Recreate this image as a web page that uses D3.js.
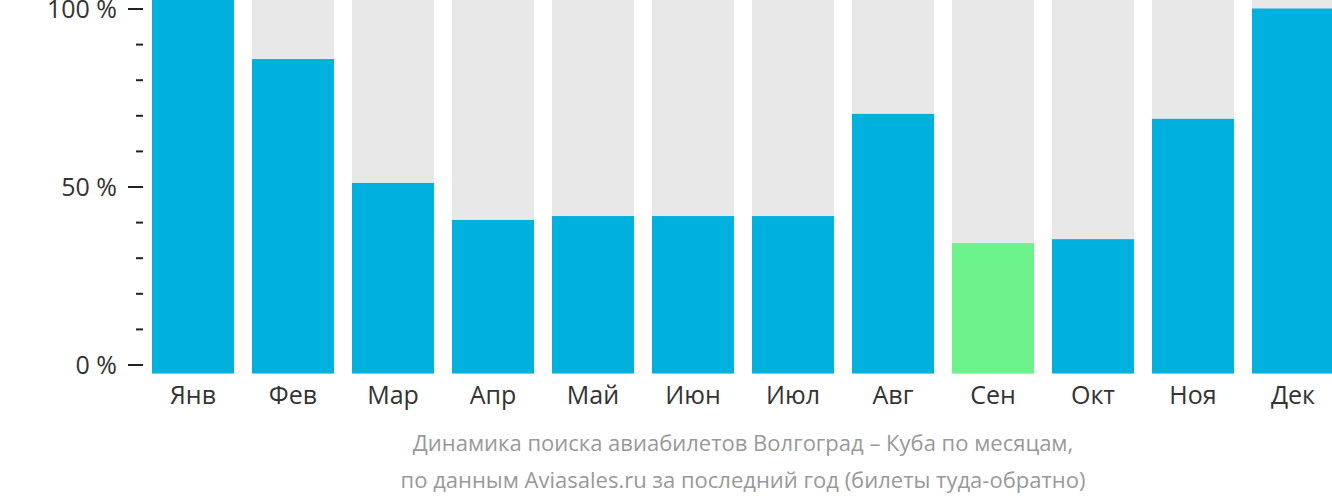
<!DOCTYPE html>
<html>
<head>
<meta charset="utf-8">
<script src="https://cdn.jsdelivr.net/npm/d3@7/dist/d3.min.js"></script>
<style>
  html, body { margin: 0; padding: 0; background: #fff; }
  svg text { font-family: 'Open Sans', 'Noto Sans', sans-serif; }
</style>
</head>
<body>
<svg id="chart" width="1332" height="502"></svg>
<script>
// months and search share (% of the busiest month)
const months = ['Янв', 'Фев', 'Мар', 'Апр', 'Май', 'Июн', 'Июл', 'Авг', 'Сен', 'Окт', 'Ноя', 'Дек'];
const values = [104, 85.8, 51, 40.6, 41.7, 41.7, 41.7, 70.4, 34.1, 35.2, 69, 100];
const cheapest = ['Сен'];
const yTicks = [0, 50, 100];
const subtitle = [
  'Динамика поиска авиабилетов Волгоград – Куба по месяцам,',
  'по данным Aviasales.ru за последний год (билеты туда-обратно)'
];

const chart = {
  left: 152,
  right: 1334,
  zeroY: 364.5,
  topY: 8.5,
  barBottom: 373.5,
  blue: '#00b1dd',
  green: '#6cf28a',
  grey: '#e8e8e8',
  font: "'Open Sans', 'Noto Sans', sans-serif"
};

const svg = d3.select('#chart');

const x = d3.scaleBand()
  .domain(months)
  .range([chart.left, chart.right])
  .paddingInner(0.18)
  .paddingOuter(0);

const y = d3.scaleLinear()
  .domain([0, 100])
  .range([chart.zeroY, chart.topY]);

// background columns
svg.append('g').selectAll('rect')
  .data(months)
  .enter().append('rect')
  .attr('x', d => x(d))
  .attr('y', 0)
  .attr('width', x.bandwidth())
  .attr('height', chart.barBottom)
  .attr('fill', chart.grey);

// value bars
svg.append('g').selectAll('rect')
  .data(months.map((m, i) => ({ m: m, v: values[i] })))
  .enter().append('rect')
  .attr('x', d => x(d.m))
  .attr('y', d => Math.max(0, y(d.v)))
  .attr('width', x.bandwidth())
  .attr('height', d => chart.barBottom - Math.max(0, y(d.v)))
  .attr('fill', d => cheapest.includes(d.m) ? chart.green : chart.blue);

// y axis: major ticks with labels, minor ticks every 10 %
const yAxis = d3.axisLeft(y)
  .tickValues(yTicks)
  .tickSize(15)
  .tickPadding(11)
  .tickFormat(d => d + ' %');

const gy = svg.append('g')
  .attr('transform', 'translate(143,0)')
  .call(yAxis)
  .attr('font-family', chart.font);
gy.select('.domain').remove();
gy.selectAll('line').attr('stroke', '#222').attr('stroke-width', 2);
gy.selectAll('text')
  .attr('fill', '#333')
  .style('font-family', chart.font)
  .style('font-size', '25px')
  .attr('dy', '0.34em');

const gMinor = svg.append('g')
  .attr('transform', 'translate(143,0)')
  .call(d3.axisLeft(y).tickValues(d3.range(10, 100, 10).filter(t => t !== 50)).tickSize(7).tickFormat(''));
gMinor.select('.domain').remove();
gMinor.selectAll('line').attr('stroke', '#222').attr('stroke-width', 2);

// x axis labels
const gx = svg.append('g')
  .attr('transform', 'translate(0,' + chart.barBottom + ')')
  .call(d3.axisBottom(x).tickSize(0).tickPadding(13))
  .attr('font-family', chart.font);
gx.select('.domain').remove();
gx.selectAll('text')
  .attr('fill', '#333')
  .style('font-family', chart.font)
  .style('font-size', '25px')
  .attr('dy', '0.71em');

// caption
svg.append('g').selectAll('text')
  .data(subtitle)
  .enter().append('text')
  .attr('x', (chart.left + chart.right) / 2)
  .attr('y', (d, i) => 451 + i * 37)
  .attr('text-anchor', 'middle')
  .attr('fill', '#999')
  .style('font-family', chart.font)
  .style('font-size', '22px')
  .text(d => d);
</script>
</body>
</html>
